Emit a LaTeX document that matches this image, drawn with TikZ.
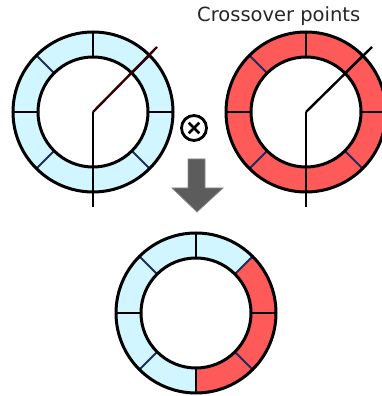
\documentclass[tikz,border=0pt]{standalone}
\usepackage{fontspec}
\setmainfont{DejaVu Sans}
\usetikzlibrary{calc}
\definecolor{lblue}{HTML}{D2F6FF}
\definecolor{lred}{HTML}{FF5A5A}
\definecolor{divblue}{HTML}{1E2D5C}
\definecolor{arrowgray}{HTML}{5C5C5C}
\definecolor{arrowedge}{HTML}{8A8A8A}
\tikzset{
  ringline/.style={line width=3pt, draw=black},
  divline/.style={line width=2pt, draw=divblue},
  axisline/.style={line width=1.6pt, draw=black},
  cutline/.style={line width=2.4pt, draw=black},
  labeltext/.style={font=\fontsize{19.5}{21}\selectfont, text=black!85, inner sep=0pt, anchor=west},
}
\newcommand{\ringsector}[5]{% center, start, end, color, outer radius
  \fill[#4] ($(#1)+(#2:#5)$) arc[start angle=#2, end angle=#3, radius=#5]
    -- ($(#1)+(#3:55)$) arc[start angle=#3, end angle=#2, radius=55] -- cycle;}
\begin{document}
\begin{tikzpicture}[x=1pt,y=1pt]
\useasboundingbox (0,0) rectangle (382,396);
\coordinate (L) at (93,284);
\coordinate (R) at (306,284);
\coordinate (B) at (196,83);
% left ring
\foreach \a in {0,45,...,315}{\ringsector{L}{\a}{\a+45}{lblue}{80}}
% right ring
\foreach \a in {0,45,...,315}{\ringsector{R}{\a}{\a+45}{lred}{80}}
% bottom ring
\foreach \a in {45,90,...,225}{\ringsector{B}{\a}{\a+45}{lblue}{80}}
\foreach \a in {-90,-45,0}{\ringsector{B}{\a}{\a+45}{lred}{80}}
% dividers
\foreach \c in {L,R,B}{
  \foreach \a in {0,90,180,270}{\draw[axisline] ($(\c)+(\a:55)$) -- ($(\c)+(\a:80)$);}
  \foreach \a in {45,135,225,315}{\draw[divline] ($(\c)+(\a:55)$) -- ($(\c)+(\a:80)$);}
  \draw[ringline] (\c) circle[radius=80];
  \draw[ringline] (\c) circle[radius=55];
}
% crossover cut lines
\coordinate (Ld) at (157,349);
\coordinate (Lv) at (93,189);
\coordinate (Rd) at (372,349);
\coordinate (Rv) at (306,189);
\draw[cutline, draw=black!80!red] (L) -- (Ld);
\draw[cutline] (L) -- (Lv);
\draw[cutline] (R) -- (Rd);
\draw[cutline] (R) -- (Rv);
% label
\node[labeltext] (lab) at (197,380) {Crossover points};
% otimes
\node[circle, draw=black, line width=2.8pt, minimum size=25pt, inner sep=0pt] (ot) at (194,268) {};
\draw[line width=2.6pt] ($(ot)+(45:7.5)$) -- ($(ot)+(225:7.5)$);
\draw[line width=2.6pt] ($(ot)+(135:7.5)$) -- ($(ot)+(315:7.5)$);
% down arrow
\coordinate (tip) at (197,184);
\fill[arrowgray, draw=arrowedge, line width=0.8pt]
  (188,237) -- (205,237) -- (205,208) -- (223,208) -- (tip) -- (172,208) -- (188,208) -- cycle;
\end{tikzpicture}
\end{document}
